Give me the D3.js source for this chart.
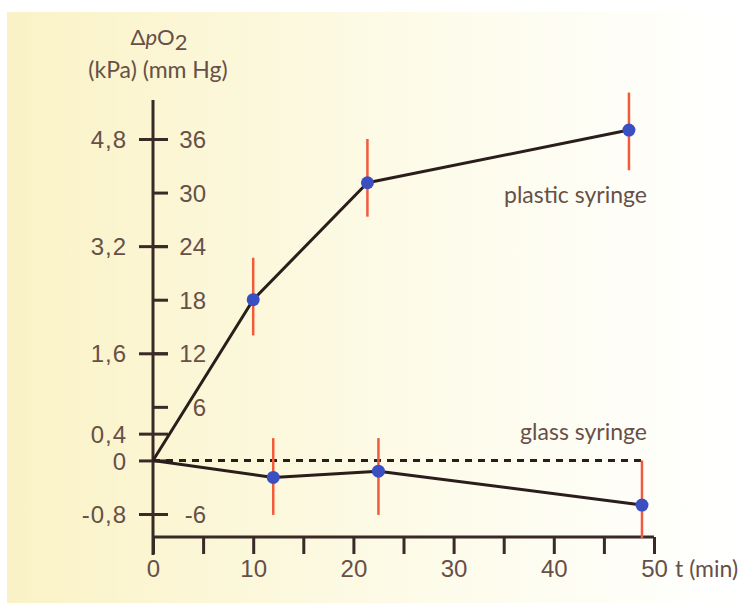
<!DOCTYPE html>
<html>
<head>
<meta charset="utf-8">
<script src="https://cdn.jsdelivr.net/npm/d3@7"></script>
<style>
  body { margin: 0; background: #fff; }
  svg { display: block; font-family: Lato, "Noto Sans", sans-serif; }
</style>
</head>
<body>
<svg id="chart" width="738" height="603"></svg>
<script>
// values (time in min, dpO2 in mm Hg)
const plasticTime = [0, 10, 21.4, 47.5];
const plasticVal = [0, 18, 31.1, 37];
const plasticLow = [null, 14.0, 27.3, 32.5];
const plasticHigh = [null, 22.7, 36.0, 41.2];

const glassTime = [0, 12, 22.5, 48.8];
const glassVal = [0, -1.9, -1.2, -5.0];
const glassLow = [null, -6.1, -6.1, -8.7];
const glassHigh = [null, 2.5, 2.5, 0];

const mmTicks = [-6, 6, 12, 18, 24, 30, 36];
const kpaTicks = [-0.8, 0, 0.4, 1.6, 3.2, 4.8];
const timeTicks = [0, 5, 10, 15, 20, 25, 30, 35, 40, 45, 50];

const textCol = '#665048';
const axisCol = '#3a2a27';

const svg = d3.select('#chart');

const defs = svg.append('defs');
const grad = defs.append('linearGradient').attr('id', 'bg')
    .attr('x1', 0).attr('x2', 1).attr('y1', 0).attr('y2', 0);
grad.append('stop').attr('offset', '0%').attr('stop-color', '#faf2c6');
grad.append('stop').attr('offset', '55%').attr('stop-color', '#fdfbe8');
grad.append('stop').attr('offset', '100%').attr('stop-color', '#ffffff');

svg.append('rect')
    .attr('x', 7).attr('y', 12)
    .attr('width', 731).attr('height', 591)
    .attr('fill', 'url(#bg)');

const x = d3.scaleLinear().domain([0, 50]).range([153, 654]);
const y = d3.scaleLinear().domain([-6, 36]).range([514, 139]);
const yK = d3.scaleLinear().domain([-0.8, 4.8]).range([514, 139]);

// vertical axis line
svg.append('line')
    .attr('x1', x(0)).attr('x2', x(0))
    .attr('y1', 100).attr('y2', 555)
    .attr('stroke', axisCol).attr('stroke-width', 3);

// mm Hg axis (right side ticks)
const mmAxis = svg.append('g')
    .attr('transform', `translate(${x(0)},0)`)
    .call(d3.axisRight(y).tickValues(mmTicks).tickSize(15).tickFormat(d => d));
mmAxis.select('.domain').remove();
mmAxis.selectAll('line').attr('stroke', axisCol).attr('stroke-width', 3);
mmAxis.selectAll('text')
    .attr('x', 53).attr('dy', '0.36em')
    .attr('text-anchor', 'end')
    .attr('fill', textCol)
    .style('font-size', '24px');

// kPa axis (ticks cross the line)
const kAxis = svg.append('g')
    .attr('transform', `translate(${x(0)},0)`)
    .call(d3.axisLeft(yK).tickValues(kpaTicks).tickSize(14)
        .tickFormat(d => String(d).replace('.', ',')));
kAxis.select('.domain').remove();
kAxis.selectAll('line').attr('x1', 15).attr('stroke', axisCol).attr('stroke-width', 3);
kAxis.selectAll('text')
    .attr('x', -26).attr('dy', '0.36em')
    .attr('fill', textCol)
    .style('font-size', '24px')
    .style('letter-spacing', '1px');

// time axis
const xAxis = svg.append('g')
    .attr('transform', `translate(0,${537})`)
    .call(d3.axisBottom(x).tickValues(timeTicks).tickSize(17)
        .tickFormat(d => d % 10 === 0 ? d : ''));
xAxis.select('.domain')
    .attr('d', `M${x(0)},0H${x(50)}`)
    .attr('stroke', axisCol).attr('stroke-width', 3);
xAxis.selectAll('line').attr('stroke', axisCol).attr('stroke-width', 3);
xAxis.selectAll('text')
    .attr('y', 40).attr('dy', 0)
    .attr('fill', textCol)
    .style('font-size', '24px');

svg.append('text')
    .attr('x', 675).attr('y', 577)
    .attr('fill', textCol)
    .style('font-size', '23px')
    .text('t (min)');

// header
const head = svg.append('text')
    .attr('x', 159).attr('y', 45)
    .attr('text-anchor', 'middle')
    .attr('fill', textCol)
    .style('font-size', '22px');
head.append('tspan').text('Δ');
head.append('tspan').style('font-style', 'italic').text('p');
head.append('tspan').text('O');
head.append('tspan').attr('dy', 5).text('2');

svg.append('text')
    .attr('x', 158).attr('y', 78)
    .attr('text-anchor', 'middle')
    .attr('fill', textCol)
    .style('font-size', '23px')
    .text('(kPa) (mm Hg)');

// zero reference line
svg.append('line')
    .attr('x1', x(0)).attr('x2', x(glassTime[glassTime.length - 1]))
    .attr('y1', y(0)).attr('y2', y(0))
    .attr('stroke', '#2a1d1b').attr('stroke-width', 3)
    .attr('stroke-dasharray', '7,6');

const plastic = plasticTime.map((t, i) => ({t, v: plasticVal[i], lo: plasticLow[i], hi: plasticHigh[i]}));
const glass = glassTime.map((t, i) => ({t, v: glassVal[i], lo: glassLow[i], hi: glassHigh[i]}));

function drawSeries(data) {
    const line = d3.line().x(d => x(d.t)).y(d => y(d.v));
    svg.append('path')
        .datum(data)
        .attr('fill', 'none')
        .attr('stroke', '#2a1d1b')
        .attr('stroke-width', 3)
        .attr('stroke-linejoin', 'round')
        .attr('d', line);

    const pts = data.filter(d => d.lo !== null);
    svg.selectAll(null)
        .data(pts)
        .enter().append('line')
        .attr('x1', d => x(d.t)).attr('x2', d => x(d.t))
        .attr('y1', d => y(d.hi)).attr('y2', d => y(d.lo))
        .attr('stroke', '#f25a3c').attr('stroke-width', 2.5);

    svg.selectAll(null)
        .data(pts)
        .enter().append('circle')
        .attr('cx', d => x(d.t)).attr('cy', d => y(d.v))
        .attr('r', 6.5)
        .attr('fill', '#3a4fc2');
}

drawSeries(plastic);
drawSeries(glass);

svg.append('text')
    .attr('x', 647).attr('y', 203)
    .attr('text-anchor', 'end')
    .attr('fill', textCol)
    .style('font-size', '23px')
    .text('plastic syringe');

svg.append('text')
    .attr('x', 647).attr('y', 440)
    .attr('text-anchor', 'end')
    .attr('fill', textCol)
    .style('font-size', '23px')
    .text('glass syringe');
</script>
</body>
</html>
